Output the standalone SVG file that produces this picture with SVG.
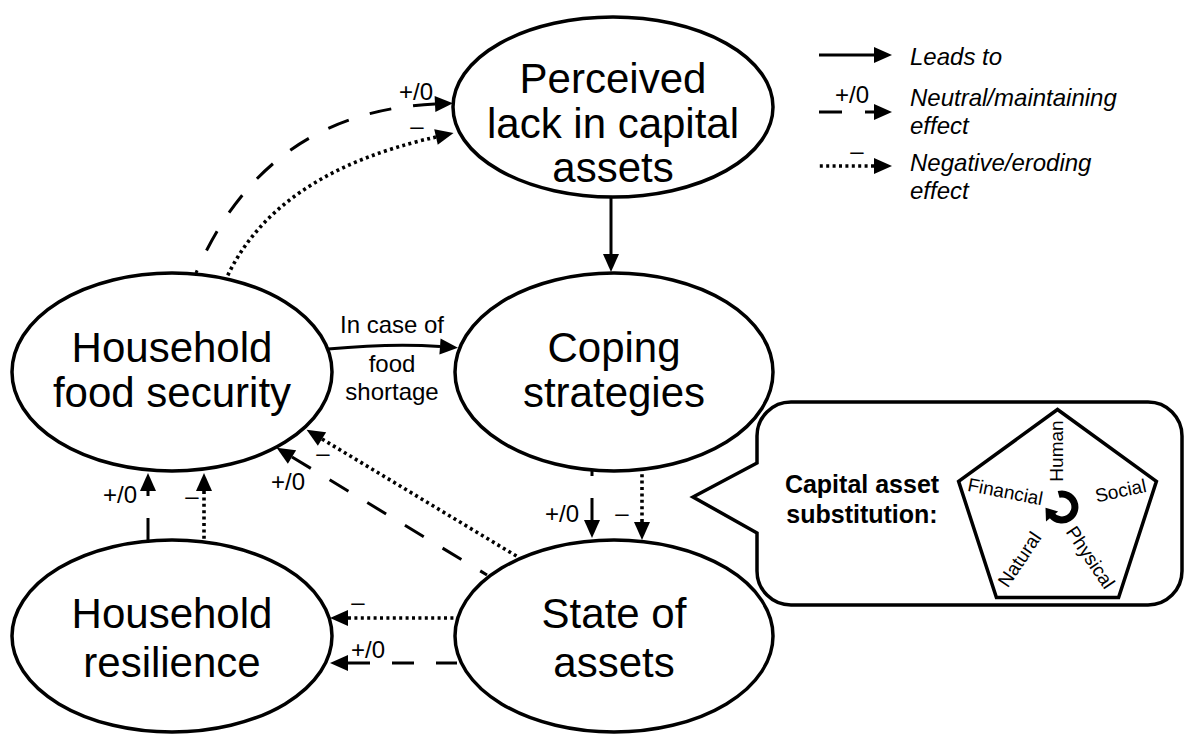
<svg xmlns="http://www.w3.org/2000/svg" width="1185" height="734" viewBox="0 0 1185 734">
<defs>
<style>
.node ellipse{fill:#fff;stroke:#000;stroke-width:3.5}
.t{font-family:"Liberation Sans",Arial,Helvetica,sans-serif;font-size:42px;text-anchor:middle;fill:#000}
.el{font-family:"Liberation Sans",Arial,Helvetica,sans-serif;font-size:24px;text-anchor:middle;fill:#000}
.lg{font-family:"Liberation Sans",Arial,Helvetica,sans-serif;font-size:24px;font-style:italic;fill:#000}
.pl{font-family:"Liberation Sans",Arial,Helvetica,sans-serif;font-size:19px;text-anchor:middle;fill:#000}
.bd{font-family:"Liberation Sans",Arial,Helvetica,sans-serif;font-size:25px;font-weight:bold;text-anchor:middle;fill:#000}
.c{fill:none;stroke:#000;stroke-width:3;marker-start:url(#ah)}
.dash{stroke-dasharray:22 22}
.dot{stroke-dasharray:3 3.4;stroke-width:3.6}
.shape{fill:#fff;stroke:#000;stroke-width:3.5;stroke-linejoin:miter}
</style>
<marker id="ah" markerUnits="userSpaceOnUse" viewBox="0 0 18 16" markerWidth="18" markerHeight="16" refX="0" refY="8" orient="auto-start-reverse" overflow="visible">
<path d="M0,0 L18,8 L0,16 z" fill="#000"/>
</marker>
</defs>
<rect width="1185" height="734" fill="#fff"/>

<g id="connectors">
<path class="c dash" d="M435,104 Q265,112 196,273"/>
<path class="c dot" d="M436,137 C370,152 270,185 227,277"/>
<path class="c" d="M611,254 L611,197"/>
<path class="c" d="M440,346.5 Q392,343 328,349"/>
<path class="c dash" d="M592,520 L592,470"/>
<path class="c dot" d="M642,522 L642,471"/>
<path class="c dash" d="M292,457 L487,575"/>
<path class="c dot" d="M322,439 L518,557"/>
<path class="c dash" style="stroke-dashoffset:17" d="M148,491 L148,540"/>
<path class="c dot" d="M204,491 L204,539"/>
<path class="c dot" d="M348,618 L457,618"/>
<path class="c dash" d="M348,663 L457,663"/>
</g>

<g id="edge-labels">
<text class="el" x="416" y="100">+/0</text>
<text class="el" x="417" y="134">–</text>
<text class="el" x="392" y="333">In case of</text>
<text class="el" x="392" y="372">food</text>
<text class="el" x="392" y="400">shortage</text>
<text class="el" x="562" y="522">+/0</text>
<text class="el" x="622" y="521">–</text>
<text class="el" x="288" y="490">+/0</text>
<text class="el" x="323" y="461">–</text>
<text class="el" x="120" y="503">+/0</text>
<text class="el" x="192" y="504">–</text>
<text class="el" x="358" y="610">–</text>
<text class="el" x="368" y="658">+/0</text>
</g>

<g id="perceived" class="node">
<ellipse cx="613" cy="107" rx="160" ry="90"/>
<text class="t" x="613" y="93">Perceived</text>
<text class="t" x="613" y="138">lack in capital</text>
<text class="t" x="613" y="182">assets</text>
</g>

<g id="food-security" class="node">
<ellipse cx="172" cy="372" rx="160" ry="99"/>
<text class="t" x="172" y="362">Household</text>
<text class="t" x="172" y="407">food security</text>
</g>

<g id="coping" class="node">
<ellipse cx="614" cy="372" rx="159" ry="99"/>
<text class="t" x="614" y="362">Coping</text>
<text class="t" x="614" y="407">strategies</text>
</g>

<g id="resilience" class="node">
<ellipse cx="172" cy="636" rx="160" ry="96"/>
<text class="t" x="172" y="628">Household</text>
<text class="t" x="172" y="677">resilience</text>
</g>

<g id="state" class="node">
<ellipse cx="614" cy="636" rx="159" ry="96"/>
<text class="t" x="614" y="628">State of</text>
<text class="t" x="614" y="677">assets</text>
</g>

<g id="callout">
<path class="shape" d="M791,402 H1148 A34,34 0 0 1 1182,436 V571 A34,34 0 0 1 1148,605 H791 A34,34 0 0 1 757,571 V533 L693,497 L757,463 V436 A34,34 0 0 1 791,402 Z"/>
<text class="bd" x="862" y="493">Capital asset</text>
<text class="bd" x="862" y="523">substitution:</text>
<polygon class="shape" points="1057.5,409.5 1156.4,481.4 1118.6,597.6 996.4,597.6 958.6,481.4"/>
<text class="pl" transform="translate(1063,451) rotate(-90)">Human</text>
<text class="pl" transform="translate(1004,498) rotate(11)">Financial</text>
<text class="pl" transform="translate(1122,497) rotate(-12)">Social</text>
<text class="pl" transform="translate(1025,563) rotate(-56)">Natural</text>
<text class="pl" transform="translate(1085,561) rotate(56)">Physical</text>
<path d="M1058.6,494.4 A13,13 0 1 1 1052,515.4" fill="none" stroke="#000" stroke-width="7"/>
<polygon points="1045.5,507.7 1058.1,511.4 1046.0,521.4" fill="#000"/>
</g>

<g id="legend">
<path class="c" d="M874,55 L819,55"/>
<path class="c" style="stroke-dasharray:9 23 23 100" d="M874,112 L819,112"/>
<path class="c dot" d="M874,166 L819,166"/>
<text class="el" x="852" y="103">+/0</text>
<text class="el" x="857" y="159">–</text>
<text class="lg" x="910" y="65">Leads to</text>
<text class="lg" x="910" y="106">Neutral/maintaining</text>
<text class="lg" x="910" y="134">effect</text>
<text class="lg" x="910" y="171">Negative/eroding</text>
<text class="lg" x="910" y="199">effect</text>
</g>
</svg>
